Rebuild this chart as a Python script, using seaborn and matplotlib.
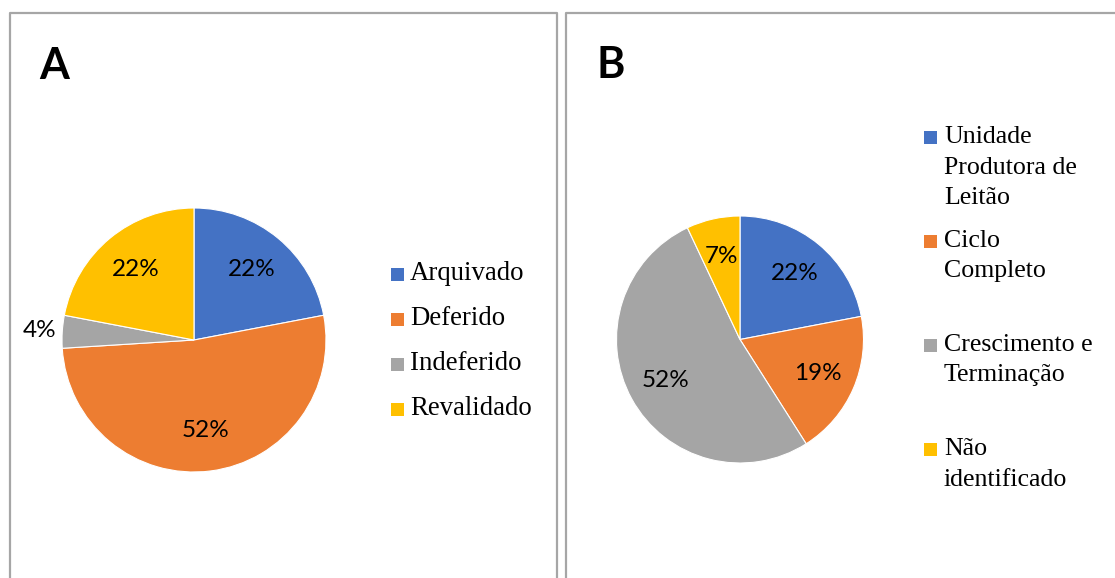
import matplotlib
matplotlib.use("Agg")
import matplotlib.pyplot as plt
from matplotlib.patches import Rectangle
import numpy as np
import seaborn as sns

# Panel A: situação dos processos
status_labels = ["Arquivado", "Deferido", "Indeferido", "Revalidado"]
status_values = [22, 52, 4, 22]

# Panel B: tipo de granja
farm_labels = [["Unidade", "Produtora de", "Leitão"],
               ["Ciclo", "Completo"],
               ["Crescimento e", "Terminação"],
               ["Não", "identificado"]]
farm_values = [22, 19, 52, 7]

panel_letters = ["A", "B"]

sns.set_theme(style="white")
palette = sns.color_palette(["#4472C4", "#ED7D31", "#A5A5A5", "#FFC000"])

W, H = 1115, 578
fig = plt.figure(figsize=(W / 100, H / 100), dpi=100)
fig.patch.set_facecolor("white")

# Full-figure overlay in pixel units for frames, letters and legends
bg = fig.add_axes([0, 0, 1, 1], zorder=0)
bg.set_xlim(0, W)
bg.set_ylim(H, 0)
bg.axis("off")

frame_kw = dict(color="#A6A6A6", lw=1.6, solid_capstyle="butt")
bg.plot([10, 10, 557, 557], [H, 13, 13, H], **frame_kw)
bg.plot([566, 566, W], [H, 13, 13], **frame_kw)

letter_kw = dict(family="Lato", fontweight="bold", fontsize=31, color="black",
                 ha="center", va="center")
bg.text(54, 66, panel_letters[0], **letter_kw)
bg.text(611, 65, panel_letters[1], **letter_kw)


def pie_axes(cx, cy, r):
    return fig.add_axes([(cx - r) / W, 1 - (cy + r) / H, 2 * r / W, 2 * r / H], zorder=1)


def draw_pie(ax, values, outside=()):
    wedges, _, autotexts = ax.pie(
        values, colors=palette, startangle=90, counterclock=False,
        autopct=lambda p: f"{p:.0f}%", pctdistance=0.69,
        wedgeprops=dict(edgecolor="white", linewidth=0.8),
        textprops=dict(family="Lato", fontsize=17.5, color="black"),
    )
    for i in outside:
        w = wedges[i]
        mid = np.deg2rad((w.theta1 + w.theta2) / 2)
        autotexts[i].set_position((1.17 * np.cos(mid), 1.17 * np.sin(mid)))
    ax.set_xlim(-1, 1)
    ax.set_ylim(-1, 1)
    ax.set_aspect("equal")
    ax.axis("off")
    return wedges


ax_a = pie_axes(194, 340, 132)
draw_pie(ax_a, status_values, outside=(2,))

ax_b = pie_axes(740, 339.5, 123.5)
draw_pie(ax_b, farm_values)


def draw_legend(entries, x_sq, x_txt, base0, step, line_gap, fontsize, sq=13):
    for i, lines in enumerate(entries):
        if isinstance(lines, str):
            lines = [lines]
        base = base0 + i * step
        bg.add_patch(Rectangle((x_sq, base - 6 - sq / 2), sq, sq,
                               facecolor=palette[i], edgecolor="none"))
        for j, line in enumerate(lines):
            bg.text(x_txt, base + j * line_gap, line, family="Liberation Serif",
                    fontsize=fontsize, color="black", ha="left", va="baseline")


draw_legend(status_labels, 391, 410, 280, 45, 0, 19.3)
draw_legend(farm_labels, 924, 944, 143, 104, 30.5, 18.6)

fig.savefig("out.png", dpi=100)
